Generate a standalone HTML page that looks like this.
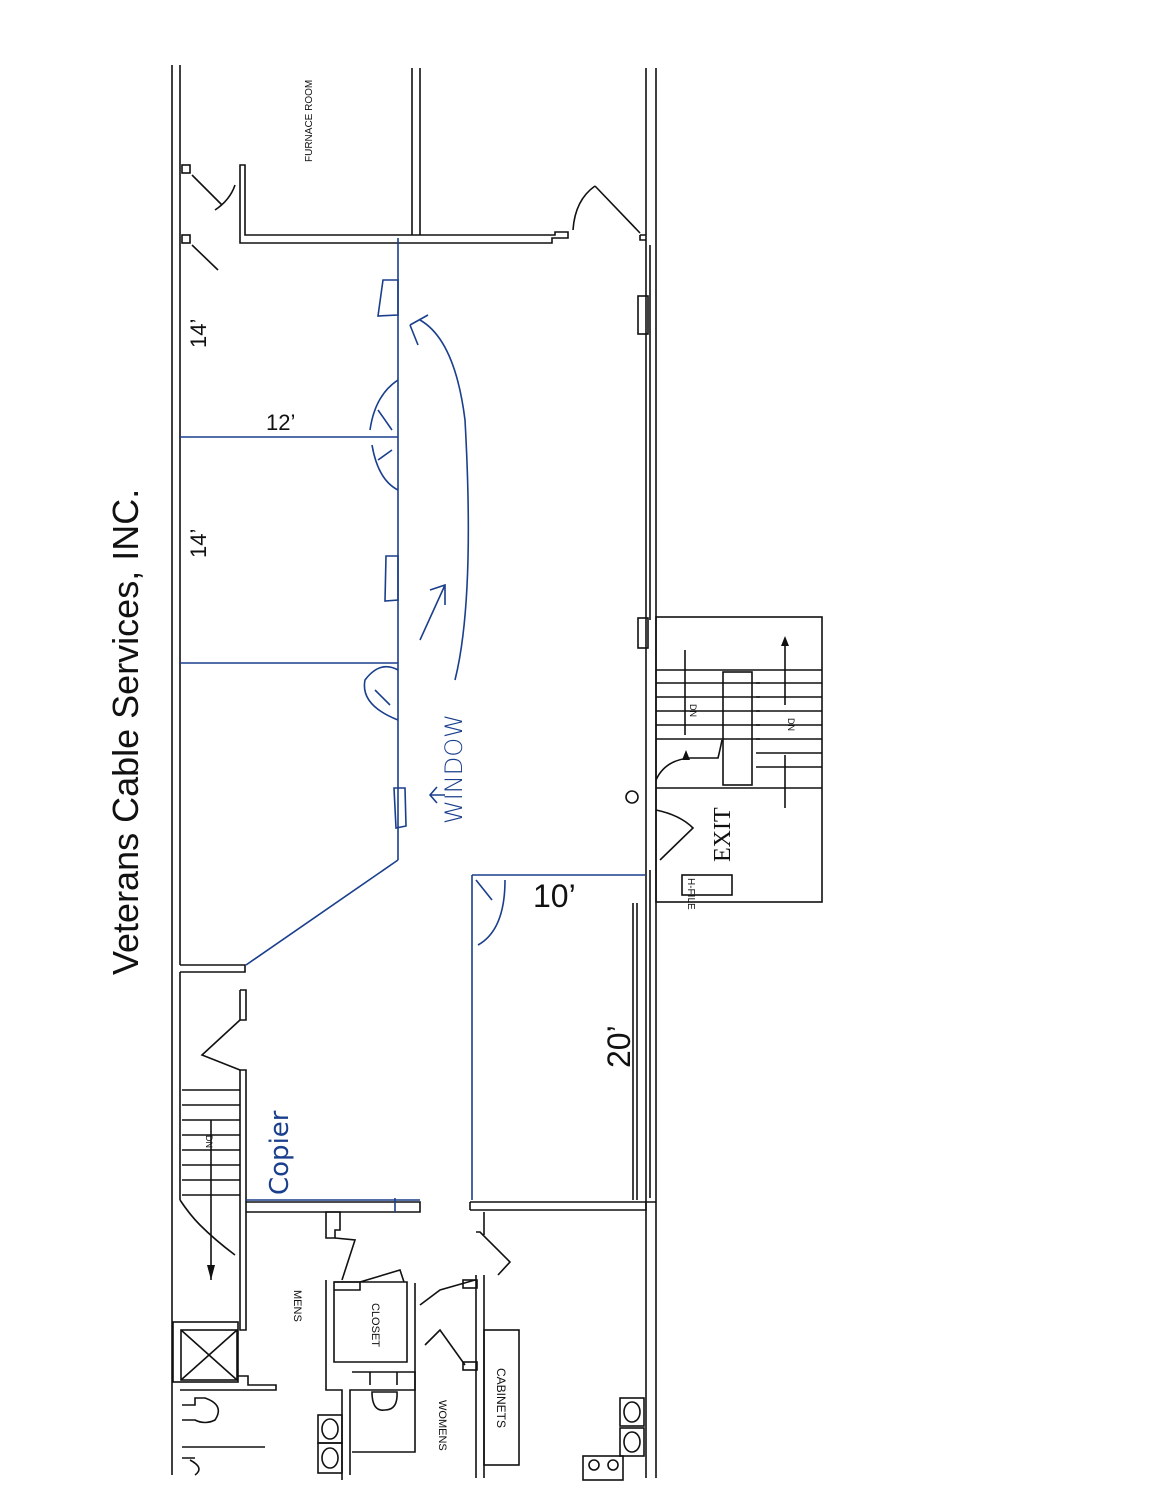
<!DOCTYPE html>
<html><head><meta charset="utf-8"><style>
html,body{margin:0;padding:0;background:#fff}
svg{display:block}
text{font-family:"Liberation Sans",sans-serif}
</style></head><body>
<svg width="1160" height="1500" viewBox="0 0 1160 1500" xmlns="http://www.w3.org/2000/svg">
<rect width="1160" height="1500" fill="#fff"/>
<g stroke="#111" stroke-width="1.6" fill="none">
<!-- outer left wall -->
<line x1="172" y1="65" x2="172" y2="1475"/>
<line x1="180" y1="65" x2="180" y2="965"/>
<!-- outer right wall -->
<line x1="646" y1="68" x2="646" y2="1478"/>
<line x1="656" y1="68" x2="656" y2="1478"/>
<line x1="650" y1="245" x2="650" y2="620"/>
<rect x="638" y="296" width="10" height="38"/>
<rect x="638" y="618" width="10" height="30"/>
<!-- furnace room -->
<line x1="412" y1="68" x2="412" y2="235"/>
<line x1="420" y1="68" x2="420" y2="235"/>
<path d="M240 165 L245 165 L245 235 L555 235 L555 232 L568 232 L568 238 L552 238 L552 243 L240 243 Z"/>
<path d="M640 235 L640 240 L646 240 M646 235 L640 235"/>
<!-- small door stubs left -->
<rect x="182" y="165" width="8" height="8"/>
<rect x="182" y="235" width="8" height="8"/>
<line x1="192" y1="175" x2="222" y2="205"/>
<line x1="192" y1="245" x2="218" y2="270"/>
<path d="M235 185 Q230 200 215 210"/>
<!-- right door furnace -->
<line x1="640" y1="233" x2="595" y2="186"/>
<path d="M595 186 Q575 200 573 230"/>
<!-- left wall by stair -->
<path d="M180 965 L245 965 L245 972 L180 972"/>
<path d="M180 972 L180 1200"/>
<path d="M240 990 L246 990 L246 1020 L240 1020 L240 990"/>
<path d="M240 1020 L202 1055 L240 1070"/>
<path d="M240 1070 L246 1070 L246 1330 L240 1330 L240 1070"/>
<line x1="182" y1="1090" x2="240" y2="1090"/>
<line x1="182" y1="1105" x2="240" y2="1105"/>
<line x1="182" y1="1120" x2="240" y2="1120"/>
<line x1="182" y1="1135" x2="240" y2="1135"/>
<line x1="182" y1="1150" x2="240" y2="1150"/>
<line x1="182" y1="1165" x2="240" y2="1165"/>
<line x1="182" y1="1180" x2="240" y2="1180"/>
<line x1="182" y1="1195" x2="240" y2="1195"/>
<path d="M180 1200 Q190 1215 200 1225 Q215 1240 235 1255"/>
<line x1="211" y1="1120" x2="211" y2="1280"/>
<!-- bottom corridor wall -->
<path d="M246 1202 L420 1202 L420 1212 L246 1212"/>
<path d="M470 1202 L656 1202 M470 1210 L646 1210 L646 1202"/>
<path d="M470 1202 L470 1210"/>
<!-- mens room -->
<path d="M326 1212 L340 1212 L340 1230 L335 1230 L335 1238 L326 1238 Z"/>
<path d="M335 1238 L355 1240 L342 1280"/>
<path d="M326 1280 L326 1390 L342 1390 L342 1480"/>
<path d="M334 1282 L334 1362 L407 1362 L407 1282 Z"/>
<path d="M334 1282 L360 1282 L360 1290 L334 1290"/>
<path d="M360 1282 L400 1270 L404 1282"/>
<path d="M415 1283 L415 1390 L350 1390 L350 1475"/>
<path d="M420 1305 L440 1290 L475 1280"/>
<path d="M425 1345 L440 1330 L465 1365"/>
<rect x="463" y="1280" width="14" height="8"/>
<rect x="463" y="1362" width="14" height="8"/>
<line x1="476" y1="1275" x2="476" y2="1478"/>
<line x1="484" y1="1275" x2="484" y2="1478"/>
<line x1="484" y1="1212" x2="484" y2="1235"/>
<path d="M476 1232 L480 1232 L510 1262 L498 1275"/>
<rect x="484" y="1330" width="35" height="135"/>
<!-- womens toilets -->
<path d="M352 1372 L415 1372 L415 1452 L352 1452"/>
<path d="M370 1372 L370 1385 M397 1372 L397 1385 M372 1392 Q372 1412 385 1410 Q398 1410 397 1392 Z"/>
<rect x="318" y="1415" width="24" height="28"/>
<rect x="318" y="1443" width="24" height="30"/>
<ellipse cx="330" cy="1429" rx="8" ry="10"/>
<ellipse cx="330" cy="1458" rx="8" ry="10"/>
<!-- mens fixtures -->
<rect x="173" y="1322" width="65" height="60"/>
<rect x="181" y="1330" width="56" height="50"/>
<line x1="181" y1="1330" x2="237" y2="1380"/>
<line x1="237" y1="1330" x2="181" y2="1380"/>
<path d="M238 1376 L248 1376 L248 1385 L276 1385 L276 1390 L180 1390"/>
<path d="M182 1405 L195 1405 L195 1398 L205 1398 Q225 1405 215 1420 Q205 1425 195 1420 L182 1420"/>
<line x1="182" y1="1447" x2="265" y2="1447"/>
<path d="M182 1458 L195 1458 M190 1460 Q205 1468 195 1475"/>
<!-- kitchen right bottom -->
<rect x="620" y="1398" width="24" height="28"/>
<rect x="620" y="1428" width="24" height="28"/>
<ellipse cx="632" cy="1412" rx="8" ry="10"/>
<ellipse cx="632" cy="1442" rx="8" ry="10"/>
<rect x="583" y="1456" width="40" height="24"/>
<circle cx="594" cy="1465" r="5"/>
<circle cx="613" cy="1465" r="5"/>
<!-- conf room right inner wall -->
<line x1="633" y1="903" x2="633" y2="1200"/>
<line x1="637" y1="903" x2="637" y2="1200"/>
<line x1="650" y1="1005" x2="650" y2="1198"/>
<line x1="650" y1="870" x2="650" y2="1005"/>
<!-- stairwell -->
<rect x="656" y="617" width="166" height="285"/>
<line x1="656" y1="670" x2="822" y2="670"/>
<line x1="656" y1="683" x2="760" y2="683"/>
<line x1="656" y1="697" x2="760" y2="697"/>
<line x1="656" y1="711" x2="760" y2="711"/>
<line x1="656" y1="725" x2="760" y2="725"/>
<line x1="656" y1="739" x2="760" y2="739"/>
<line x1="756" y1="683" x2="822" y2="683"/>
<line x1="756" y1="697" x2="822" y2="697"/>
<line x1="756" y1="711" x2="822" y2="711"/>
<line x1="756" y1="725" x2="822" y2="725"/>
<line x1="756" y1="739" x2="822" y2="739"/>
<line x1="756" y1="753" x2="822" y2="753"/>
<line x1="756" y1="767" x2="822" y2="767"/>
<line x1="656" y1="788" x2="822" y2="788"/>
<rect x="723" y="672" width="29" height="113"/>
<line x1="685" y1="650" x2="685" y2="735"/>
<line x1="785" y1="640" x2="785" y2="705"/>
<line x1="785" y1="755" x2="785" y2="808"/>
<path d="M656 780 Q665 760 690 758 L718 758 Q720 750 722 740"/>
<circle cx="632" cy="797" r="6"/>
<path d="M656 810 Q680 815 693 828 L660 860"/>
<rect x="682" y="875" width="50" height="20"/>
</g>
<g fill="#111">
<polygon points="207,1265 215,1265 211,1280"/>
<polygon points="785,636 781,646 789,646"/>
<polygon points="686,750 682,760 690,760"/>
</g>
<!-- blue lines -->
<g stroke="#1a3f8c" stroke-width="1.6" fill="none">
<line x1="398" y1="238" x2="398" y2="860"/>
<line x1="398" y1="860" x2="246" y2="965"/>
<line x1="180" y1="437" x2="398" y2="437"/>
<line x1="180" y1="663" x2="398" y2="663"/>
<line x1="472" y1="875" x2="472" y2="1200"/>
<line x1="472" y1="875" x2="646" y2="875"/>
<line x1="395" y1="1198" x2="395" y2="1212"/>
<line x1="246" y1="1200" x2="420" y2="1200"/>
<path d="M383 280 L398 280 L398 315 L378 316 Z"/>
<path d="M386 556 L398 556 L398 600 L385 601 Z"/>
<path d="M394 788 L405 788 L406 826 L396 828 Z"/>
<path d="M398 380 Q375 395 370 430 M398 490 Q378 480 372 445 M378 410 L392 430 M378 460 L392 450"/>
<path d="M398 670 Q380 660 365 680 Q360 705 398 720 M375 690 L390 705"/>
<path d="M476 880 L492 900 M505 880 Q505 930 478 945"/>
<path d="M420 320 Q455 340 465 420 Q475 600 455 680"/>
<path d="M410 325 L428 315 M410 325 L418 345"/>
<path d="M420 640 L445 585 M430 590 L445 585 L445 605"/>
<path d="M430 795 L445 795 M437 787 L430 795 L437 803"/>
</g>
<!-- labels -->
<text x="0" y="0" font-size="36" transform="translate(138,975) rotate(-90)" fill="#111">Veterans Cable Services, INC.</text>
<text font-size="22" transform="translate(206,348) rotate(-90)" fill="#111">14’</text>
<text font-size="22" transform="translate(206,558) rotate(-90)" fill="#111">14’</text>
<text x="266" y="430" font-size="22" fill="#111">12’</text>
<text x="533" y="907" font-size="32" fill="#111">10’</text>
<text font-size="32" transform="translate(630,1068) rotate(-90)" fill="#111">20’</text>
<text font-size="24" transform="translate(730,862) rotate(-90)" fill="#111" style="font-family:'Liberation Serif',serif">EXIT</text>
<text font-size="10" transform="translate(312,162) rotate(-90)" fill="#111">FURNACE ROOM</text>
<text font-size="11" transform="translate(294,1290) rotate(90)" fill="#111">MENS</text>
<text font-size="11" transform="translate(372,1303) rotate(90)" fill="#111">CLOSET</text>
<text font-size="11" transform="translate(439,1400) rotate(90)" fill="#111">WOMENS</text>
<text font-size="12" transform="translate(497,1368) rotate(90)" fill="#111">CABINETS</text>
<text font-size="10" transform="translate(688,878) rotate(90)" fill="#111">H-FILE</text>
<text font-size="9" transform="translate(690,704) rotate(90)" fill="#111">DN</text>
<text font-size="9" transform="translate(788,718) rotate(90)" fill="#111">DN</text>
<text font-size="9" transform="translate(206,1135) rotate(90)" fill="#111">DN</text>
<text font-size="24" transform="translate(462,824) rotate(-90)" fill="#1a3f8c" style="font-family:'DejaVu Sans',sans-serif;font-weight:200">WINDOW</text>
<text font-size="26" transform="translate(288,1195) rotate(-90)" fill="#1a3f8c" style="font-family:'DejaVu Sans',sans-serif">Copier</text>
</svg>
</body></html>
